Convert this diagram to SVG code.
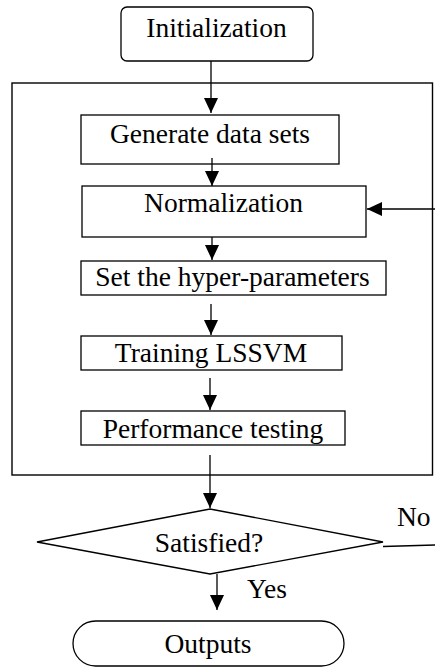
<svg xmlns="http://www.w3.org/2000/svg" width="435" height="668" viewBox="0 0 435 668">
<defs>
<style>
.box{fill:#fff;stroke:#000;stroke-width:1.3}
.frame{fill:none;stroke:#000;stroke-width:1.4}
.ln{fill:none;stroke:#000;stroke-width:1.3}
.t{font-family:"Liberation Serif","Times New Roman",serif;font-size:27.5px;fill:#000;text-anchor:middle}
.tl{font-family:"Liberation Serif","Times New Roman",serif;font-size:27.5px;fill:#000}
</style>
<marker id="ah" markerUnits="userSpaceOnUse" markerWidth="16" markerHeight="14" refX="15" refY="7" orient="auto">
<polygon points="0,0 15,7 0,14" fill="#000"/>
</marker>
</defs>
<rect id="frame" class="frame" x="12" y="83" width="420.5" height="392"/>
<g id="init"><rect class="box" x="121" y="7" width="192" height="54" rx="6"/><text class="t" x="216.5" y="37">Initialization</text></g>
<g id="gen"><rect class="box" x="81" y="115" width="258" height="49"/><text class="t" x="210" y="143">Generate data sets</text></g>
<g id="norm"><rect class="box" x="82" y="186" width="284" height="51"/><text class="t" x="223.5" y="212">Normalization</text></g>
<g id="hyper"><rect class="box" x="81" y="261" width="305" height="34"/><text class="t" x="232.5" y="286">Set the hyper-parameters</text></g>
<g id="train"><rect class="box" x="81" y="336" width="261" height="34"/><text class="t" x="211" y="361.5">Training LSSVM</text></g>
<g id="perf"><rect class="box" x="81" y="411" width="264" height="34"/><text class="t" x="213" y="437.5">Performance testing</text></g>
<g id="sat"><polygon class="box" points="210,509 383,542 210,574 37,542"/><text class="t" x="209" y="552">Satisfied?</text></g>
<g id="out"><rect class="box" x="73" y="621" width="271" height="45" rx="22.5"/><text class="t" x="208" y="653">Outputs</text></g>
<g id="connectors">
<line class="ln" x1="211" y1="61" x2="211" y2="113" marker-end="url(#ah)"/>
<line class="ln" x1="212" y1="158" x2="212" y2="186" marker-end="url(#ah)"/>
<line class="ln" x1="212" y1="237" x2="212" y2="260" marker-end="url(#ah)"/>
<line class="ln" x1="211" y1="304" x2="211" y2="335" marker-end="url(#ah)"/>
<line class="ln" x1="210" y1="378" x2="210" y2="410" marker-end="url(#ah)"/>
<line class="ln" x1="210" y1="455" x2="210" y2="508" marker-end="url(#ah)"/>
<line class="ln" x1="217" y1="574" x2="217" y2="610" marker-end="url(#ah)"/>
<line class="ln" x1="383" y1="546.5" x2="435" y2="545"/>
<line class="ln" x1="435" y1="209" x2="367" y2="209" marker-end="url(#ah)"/>
<text class="tl" x="397" y="526">No</text>
<text class="tl" x="247" y="598">Yes</text>
</g>
</svg>
